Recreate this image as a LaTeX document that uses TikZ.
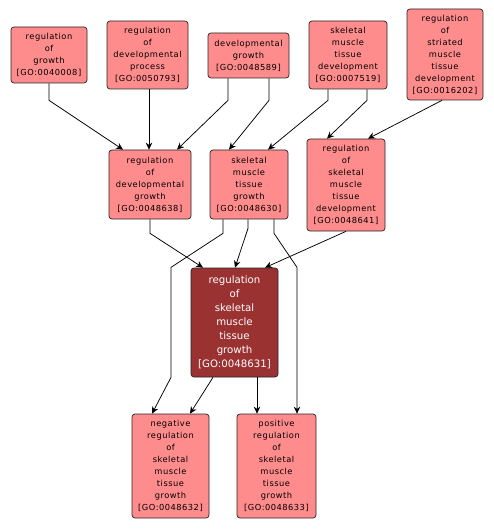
\documentclass[tikz,border=0pt]{standalone}
\usepackage{fontspec}
\setmainfont{DejaVu Sans}
\newfontfamily\gofont[LetterSpace=6]{DejaVu Sans}
\usetikzlibrary{arrows.meta}
\definecolor{lightbox}{HTML}{FF8C8C}
\definecolor{darkbox}{HTML}{9A3232}
\tikzset{
  gobox/.style={draw=black!85, line width=0.7pt, rounded corners=3pt, fill=lightbox, inner sep=0pt, align=center,
    font=\gofont\fontsize{8.3}{12}\selectfont},
  mainbox/.style={gobox, fill=darkbox, text=white, font=\rmfamily\fontsize{10.2}{14}\selectfont},
  edge/.style={line width=0.75pt, -{Stealth[length=7pt,width=6.5pt]}}
}
\begin{document}
\begin{tikzpicture}[x=1pt,y=-1pt]
\useasboundingbox (0,0) rectangle (494,529);
\fill[white] (0,0) rectangle (494,529);
\node[gobox, minimum width=76pt, minimum height=56pt] (A) at (49,55) {regulation\\of\\growth\\{[GO:0040008]}};
\node[gobox, minimum width=81pt, minimum height=68pt] (B) at (147.5,55) {regulation\\of\\developmental\\process\\{[GO:0050793]}};
\node[gobox, minimum width=81pt, minimum height=45pt] (C) at (248.5,55.5) {developmental\\growth\\{[GO:0048589]}};
\node[gobox, minimum width=78pt, minimum height=68pt] (D) at (348,55) {skeletal\\muscle\\tissue\\development\\{[GO:0007519]}};
\node[gobox, minimum width=76pt, minimum height=91pt] (E) at (445,54.5) {regulation\\of\\striated\\muscle\\tissue\\development\\{[GO:0016202]}};
\node[gobox, minimum width=82pt, minimum height=69pt] (F) at (150,184.5) {regulation\\of\\developmental\\growth\\{[GO:0048638]}};
\node[gobox, minimum width=78pt, minimum height=69pt] (G) at (249,184.5) {skeletal\\muscle\\tissue\\growth\\{[GO:0048630]}};
\node[gobox, minimum width=78pt, minimum height=92pt] (H) at (346,185) {regulation\\of\\skeletal\\muscle\\tissue\\development\\{[GO:0048641]}};
\node[mainbox, minimum width=87pt, minimum height=109pt] (I) at (234.5,322.5) {regulation\\of\\skeletal\\muscle\\tissue\\growth\\{[GO:0048631]}};
\node[gobox, minimum width=77pt, minimum height=104pt] (J) at (170.5,466) {negative\\regulation\\of\\skeletal\\muscle\\tissue\\growth\\{[GO:0048632]}};
\node[gobox, minimum width=79pt, minimum height=104pt] (K) at (276.5,466) {positive\\regulation\\of\\skeletal\\muscle\\tissue\\growth\\{[GO:0048633]}};
% top level edges
\draw[edge] (A.south) -- ++(0,17) -- ([xshift=-27pt]F.north);
\draw[edge] ([xshift=1.5pt]B.south) -- ([xshift=-1pt]F.north);
\draw[edge] ([xshift=-20.5pt]C.south) -- ++(0,22) -- ([xshift=27pt]F.north);
\draw[edge] ([xshift=20.5pt]C.south) -- ++(0,22) -- ([xshift=-20pt]G.north);
\draw[edge] ([xshift=-20pt]D.south) -- ++(0,11) -- ([xshift=19pt]G.north);
\draw[edge] ([xshift=19pt]D.south) -- ++(0,11) -- ([xshift=-19pt]H.north);
\draw[edge] ([xshift=-3pt]E.south) -- ([xshift=22pt]H.north);
% middle edges
\draw[edge] (F.south) -- ++(0,14) -- ([xshift=-31.5pt]I.north);
\draw[edge] ([xshift=-1pt]G.south) -- ++(0,9) -- ([xshift=0.5pt]I.north);
\draw[edge] ([xshift=-26pt]G.south) -- ++(0,14) -- ++(-52,34) -- ++(0,110) -- ([xshift=-18.5pt]J.north);
\draw[edge] ([xshift=25pt]G.south) -- ++(0,14) -- ++(23,34) -- ([xshift=20.5pt]K.north);
\draw[edge] (H.south) -- ([xshift=30.5pt]I.north);
% bottom edges
\draw[edge] ([xshift=-21.5pt]I.south) -- ([xshift=19.5pt]J.north);
\draw[edge] ([xshift=22.5pt]I.south) -- ([xshift=-19.5pt]K.north);
\end{tikzpicture}
\end{document}
